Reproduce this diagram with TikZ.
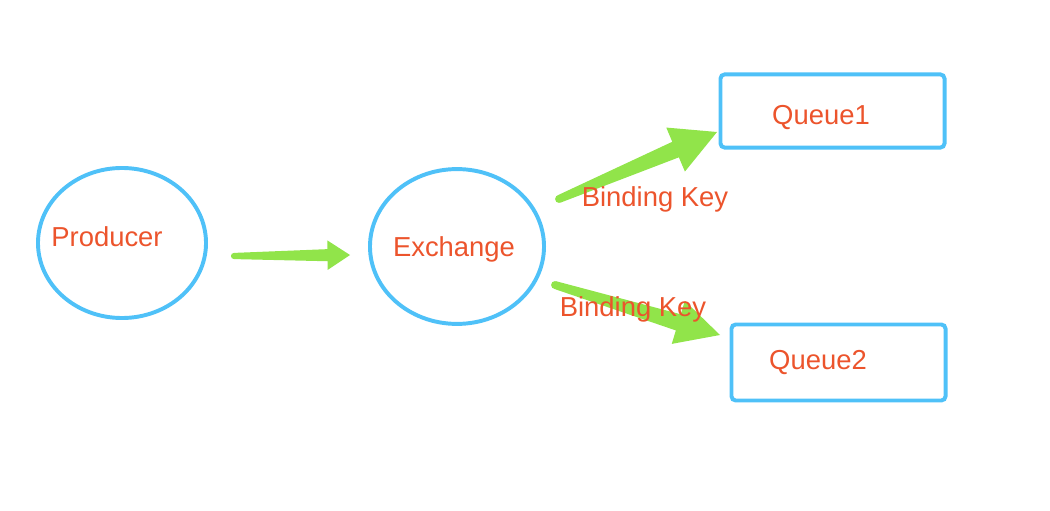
\documentclass[tikz,border=0pt]{standalone}
\usepackage{fontspec}
\setmainfont{Liberation Sans}
\usetikzlibrary{shapes.geometric,calc}

\definecolor{nodeblue}{RGB}{79,193,248}
\definecolor{labelred}{RGB}{236,84,44}
\definecolor{flowgreen}{RGB}{145,228,74}

\tikzset{
  endpoint/.style={ellipse,draw=nodeblue,line width=2.8pt,inner sep=0pt},
  queuebox/.style={rectangle,draw=nodeblue,line width=2.8pt,rounded corners=3pt,inner sep=0pt},
  txt/.style={text=labelred,font=\fontsize{19.5}{22}\selectfont,inner sep=0pt},
  flow/.style={fill=flowgreen}
}

% tapered arrow: from, to, head length, head half width, body half width, tail half width
\newcommand{\flowarrow}[6]{
  \coordinate (hb) at ($(#2)!#3!(#1)$);
  \fill[flow] ($(#1)!#6!90:(#2)$) -- ($(hb)!#5!90:(#2)$) -- ($(hb)!#4!90:(#2)$)
    -- (#2) -- ($(hb)!#4!-90:(#2)$) -- ($(hb)!#5!-90:(#2)$) -- ($(#1)!#6!-90:(#2)$) -- cycle;
  \fill[flow] (#1) circle (#6);
}

\begin{document}
\begin{tikzpicture}[x=0.025cm,y=-0.025cm]
  \useasboundingbox (0,0) rectangle (1050,511);

  \node[endpoint,minimum width=4.2cm,minimum height=3.75cm] (producer) at (122,243) {};
  \node[txt] (producerlabel) at (107,237) {Producer};

  \node[endpoint,minimum width=4.35cm,minimum height=3.87cm] (exchange) at (457,246.5) {};
  \node[txt] (exchangelabel) at (454,249) {Exchange};

  \node[queuebox,minimum width=5.6cm,minimum height=1.83cm] (queue1) at (832.5,111) {};
  \node[txt] (queue1label) at (821,118) {Queue1};

  \node[queuebox,minimum width=5.35cm,minimum height=1.9cm] (queue2) at (838.5,362.5) {};
  \node[txt] (queue2label) at (818,363) {Queue2};

  % arrows
  \coordinate (p1) at (234,256);
  \coordinate (e1) at (350,255);
  \flowarrow{p1}{e1}{16pt}{10.5pt}{4.3pt}{2.2pt}

  \coordinate (x1) at (559,199);
  \coordinate (q1) at (717,132);
  \flowarrow{x1}{q1}{32pt}{17pt}{6pt}{2.8pt}

  \coordinate (x2) at (555,285);
  \coordinate (q2) at (720,335);
  \flowarrow{x2}{q2}{31pt}{16pt}{6pt}{2.8pt}

  \node[txt] (bind1) at (655,199) {Binding Key};
  \node[txt] (bind2) at (633,309) {Binding Key};
\end{tikzpicture}
\end{document}
